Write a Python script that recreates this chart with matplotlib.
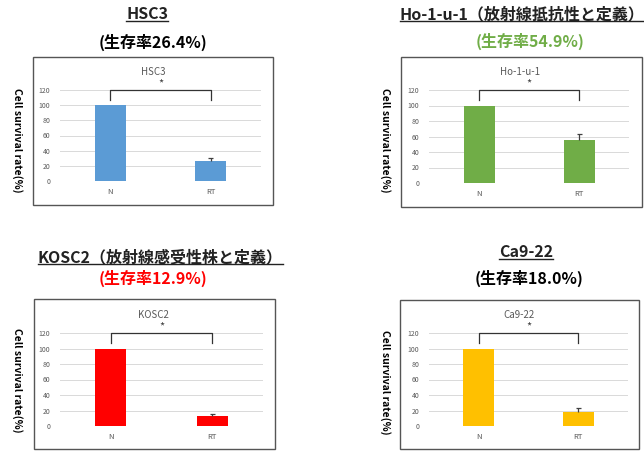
import matplotlib
matplotlib.use("Agg")
import matplotlib.pyplot as plt
from matplotlib.patches import Rectangle
from matplotlib.lines import Line2D

plt.rcParams['font.family'] = ['Noto Sans CJK JP', 'DejaVu Sans']

# データ
groups = ["N", "RT"]
names = ["HSC3", "Ho-1-u-1", "KOSC2", "Ca9-22"]
headings = ["HSC3", "Ho-1-u-1（放射線抵抗性と定義）",
            "KOSC2（放射線感受性株と定義）", "Ca9-22"]
rates = [26.4, 54.9, 12.9, 18.0]
n_values = [100, 100, 100, 100]
rt_errors = [3.5, 8.0, 2.0, 5.0]
bar_colors = ["#5B9BD5", "#70AD47", "#FF0000", "#FFC000"]
rate_colors = ["black", "#70AD47", "#FF0000", "black"]
yticks = [0, 20, 40, 60, 80, 100, 120]

W, H = 644, 451
fig = plt.figure(figsize=(W / 100, H / 100), dpi=100)


def fx(px):
    return px / W


def fy(py):
    return 1 - py / H


# パネル配置（ピクセル）: 軸, 枠, 見出し, 生存率, 内側タイトル, y軸ラベル
panels = [
    dict(ax=(60, 90, 261, 181), box=(33, 57, 273, 205), head=(147, 14), rate=(153, 42),
         inner=(153, 72), ylab=(17, 140)),
    dict(ax=(429, 90, 629, 183), box=(401, 57, 642, 207), head=(522, 14), rate=(530, 41),
         inner=(520, 72), ylab=(385, 140)),
    dict(ax=(60, 333, 263, 426), box=(34, 299, 275, 449), head=(160, 257), rate=(153, 278),
         inner=(153, 315), ylab=(17, 380)),
    dict(ax=(429, 333, 628, 426), box=(400, 300, 639, 449), head=(526, 252), rate=(529, 278),
         inner=(519, 315), ylab=(385, 382)),
]

head_texts = []
for i, p in enumerate(panels):
    bx0, by0, bx1, by1 = p["box"]
    fig.patches.append(Rectangle((fx(bx0), fy(by1)), fx(bx1 - bx0), (by1 - by0) / H,
                                 transform=fig.transFigure, facecolor="none",
                                 edgecolor="#555555", linewidth=1.0, zorder=-1))

    x0, y0, x1, y1 = p["ax"]
    ax = fig.add_axes([fx(x0), fy(y1), fx(x1 - x0), (y1 - y0) / H])
    ax.set_facecolor("none")
    vals = [n_values[i], rates[i]]
    ax.bar([0, 1], vals, width=0.31, color=bar_colors[i], zorder=3)

    # 上側だけのエラーバー
    top = rates[i] + rt_errors[i]
    ax.vlines(1, rates[i], top, color="#404040", lw=0.9, zorder=4)
    ax.hlines(top, 1 - 0.025, 1 + 0.025, color="#404040", lw=0.9, zorder=4)

    ax.set_xlim(-0.5, 1.5)
    ax.set_ylim(0, 120)
    ax.set_yticks(yticks)
    ax.set_xticks([0, 1])
    ax.set_xticklabels(groups)
    ax.tick_params(axis="both", length=0, labelsize=5, colors="#595959")
    ax.tick_params(axis="x", labelsize=5.5, pad=5)
    ax.tick_params(axis="y", pad=7)
    ax.grid(axis="y", color="#D9D9D9", linewidth=0.7, zorder=0)
    ax.set_axisbelow(True)
    for s in ax.spines.values():
        s.set_visible(False)

    # 有意差の括弧
    ax.plot([0, 0, 1, 1], [107, 120, 120, 107], color="#333333", lw=0.9,
            clip_on=False, zorder=5)
    ax.text(0.5, 122, "*", ha="center", va="bottom", fontsize=8,
            color="#404040", clip_on=False)

    fig.text(fx(p["inner"][0]), fy(p["inner"][1]), names[i], ha="center", va="center",
             fontsize=7, color="#595959")
    fig.text(fx(p["ylab"][0]), fy(p["ylab"][1]), "Cell survival rate(%)", rotation=270,
             ha="center", va="center", fontsize=7.5, fontweight="bold")

    t = fig.text(fx(p["head"][0]), fy(p["head"][1]), headings[i], ha="center", va="center",
                 fontsize=11.5, fontweight="bold", color="#222222")
    head_texts.append(t)
    fig.text(fx(p["rate"][0]), fy(p["rate"][1]), "(生存率%.1f%%)" % rates[i],
             ha="center", va="center", fontsize=11.5, fontweight="bold",
             color=rate_colors[i])

# 見出しの下線
fig.canvas.draw()
renderer = fig.canvas.get_renderer()
for t in head_texts:
    bb = t.get_window_extent(renderer)
    yline = bb.y0 + 1
    fig.lines.append(Line2D([bb.x0 / W, bb.x1 / W], [yline / H, yline / H],
                            transform=fig.transFigure, color="#222222", linewidth=1.0))

fig.savefig("out.png", dpi=100)
